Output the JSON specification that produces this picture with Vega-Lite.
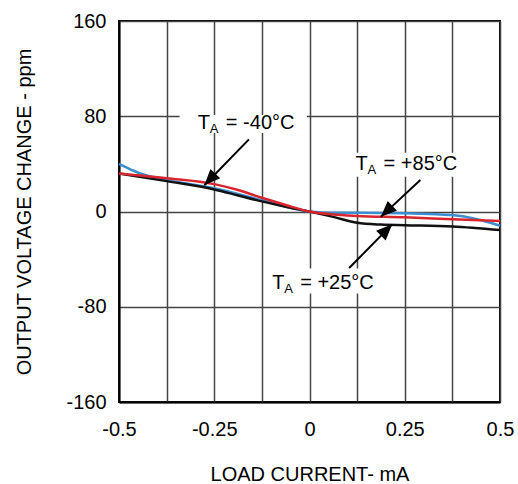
{
  "$schema": "https://vega.github.io/schema/vega-lite/v6.json",
  "width": 381,
  "height": 381,
  "autosize": "none",
  "padding": {"left": 119, "top": 21, "right": 18, "bottom": 82},
  "background": "white",
  "config": {
    "font": "Liberation Sans",
    "view": {"stroke": "black", "strokeWidth": 2},
    "axis": {
      "labelFont": "Liberation Sans",
      "titleFont": "Liberation Sans",
      "labelFontSize": 20,
      "titleFontSize": 20,
      "labelColor": "black",
      "titleColor": "black",
      "titleFontWeight": "normal",
      "ticks": false,
      "tickSize": 0,
      "domainColor": "black",
      "domainWidth": 2,
      "gridColor": "#444444",
      "gridWidth": 1.5,
      "gridOpacity": 1
    }
  },
  "datasets": {
    "curves": [
      {"series": "-40°C", "current": -0.5, "change": 40},
      {"series": "-40°C", "current": -0.46, "change": 34},
      {"series": "-40°C", "current": -0.44, "change": 31.5},
      {"series": "-40°C", "current": -0.375, "change": 26.5},
      {"series": "-40°C", "current": -0.25, "change": 19.5},
      {"series": "-40°C", "current": -0.125, "change": 9.5},
      {"series": "-40°C", "current": 0, "change": 0},
      {"series": "-40°C", "current": 0.0625, "change": -1},
      {"series": "-40°C", "current": 0.125, "change": -1},
      {"series": "-40°C", "current": 0.25, "change": -1.5},
      {"series": "-40°C", "current": 0.33, "change": -2.3},
      {"series": "-40°C", "current": 0.375, "change": -3},
      {"series": "-40°C", "current": 0.44, "change": -6.5},
      {"series": "-40°C", "current": 0.5, "change": -12},
      {"series": "+25°C", "current": -0.5, "change": 32},
      {"series": "+25°C", "current": -0.375, "change": 25.5},
      {"series": "+25°C", "current": -0.25, "change": 18.5},
      {"series": "+25°C", "current": -0.1875, "change": 13.5},
      {"series": "+25°C", "current": -0.125, "change": 8.5},
      {"series": "+25°C", "current": -0.0625, "change": 4},
      {"series": "+25°C", "current": 0, "change": 0},
      {"series": "+25°C", "current": 0.0625, "change": -4.5},
      {"series": "+25°C", "current": 0.125, "change": -9.5},
      {"series": "+25°C", "current": 0.1875, "change": -11},
      {"series": "+25°C", "current": 0.25, "change": -11.5},
      {"series": "+25°C", "current": 0.375, "change": -12.5},
      {"series": "+25°C", "current": 0.5, "change": -15.5},
      {"series": "+85°C", "current": -0.5, "change": 32},
      {"series": "+85°C", "current": -0.375, "change": 28},
      {"series": "+85°C", "current": -0.25, "change": 23},
      {"series": "+85°C", "current": -0.1875, "change": 18},
      {"series": "+85°C", "current": -0.125, "change": 11.5},
      {"series": "+85°C", "current": -0.0625, "change": 5.5},
      {"series": "+85°C", "current": 0, "change": 0},
      {"series": "+85°C", "current": 0.0625, "change": -2.5},
      {"series": "+85°C", "current": 0.125, "change": -3.7},
      {"series": "+85°C", "current": 0.25, "change": -4.8},
      {"series": "+85°C", "current": 0.375, "change": -6.5},
      {"series": "+85°C", "current": 0.5, "change": -8}
    ],
    "labels": [
      {"rest": "= -40°C", "x": -0.293, "y": 74.4, "bx": -0.341, "bx2": -0.007, "by": 65.9, "by2": 81.1},
      {"rest": "= +85°C", "x": 0.121, "y": 39.8, "bx": 0.106, "bx2": 0.4, "by": 29.1, "by2": 49.3},
      {"rest": "= +25°C", "x": -0.098, "y": -60, "bx": -0.112, "bx2": 0.185, "by": -68.8, "by2": -47.8}
    ],
    "arrows": [
      {"x": -0.159, "y": 60.6, "tx": -0.276, "ty": 22.1, "dir": 223.7},
      {"x": 0.291, "y": 26.4, "tx": 0.187, "ty": -4.5, "dir": 226.8},
      {"x": 0.104, "y": -47.5, "tx": 0.217, "ty": -10.8, "dir": 45}
    ]
  },
  "layer": [
    {
      "data": {"name": "labels"},
      "mark": {"type": "rect", "fill": "white", "stroke": null},
      "encoding": {
        "x": {
          "field": "bx", "type": "quantitative",
          "scale": {"domain": [-0.5, 0.5], "nice": false, "zero": false},
          "axis": {
            "values": [-0.5, -0.375, -0.25, -0.125, 0, 0.125, 0.25, 0.375, 0.5],
            "labelExpr": "(datum.value*4) % 1 == 0 ? toString(datum.value) : ''",
            "labelPadding": 17,
            "labelFlush": false,
            "title": "LOAD CURRENT- mA",
            "titleBaseline": "alphabetic",
            "titleY": 78,
            "titleX": 190.5,
            "titleAlign": "center"
          }
        },
        "x2": {"field": "bx2"},
        "y": {
          "field": "by", "type": "quantitative",
          "scale": {"domain": [-160, 160], "nice": false, "zero": false},
          "axis": {
            "values": [-160, -80, 0, 80, 160],
            "labelExpr": "toString(datum.value)",
            "labelPadding": 13,
            "labelFlush": false,
            "title": "OUTPUT VOLTAGE CHANGE - ppm",
            "titleAngle": 270,
            "titleAlign": "center",
            "titleBaseline": "middle",
            "titleX": -95,
            "titleY": 190.5
          }
        },
        "y2": {"field": "by2"}
      }
    },
    {
      "data": {"name": "curves"},
      "mark": {"type": "line", "strokeWidth": 2.5, "interpolate": "monotone"},
      "encoding": {
        "x": {"field": "current", "type": "quantitative"},
        "y": {"field": "change", "type": "quantitative"},
        "color": {
          "field": "series", "type": "nominal",
          "scale": {"domain": ["-40°C", "+25°C", "+85°C"], "range": ["#3b8ed0", "#111111", "#d9252d"]},
          "legend": null
        }
      }
    },
    {
      "data": {"name": "arrows"},
      "mark": {"type": "rule", "color": "black", "strokeWidth": 2},
      "encoding": {
        "x": {"field": "x", "type": "quantitative"},
        "y": {"field": "y", "type": "quantitative"},
        "x2": {"field": "tx"},
        "y2": {"field": "ty"}
      }
    },
    {
      "data": {"name": "arrows"},
      "mark": {"type": "point", "shape": "M0,0L-0.55,1.3L0.55,1.3Z", "filled": true, "color": "black", "opacity": 1, "size": 600, "strokeWidth": 0},
      "encoding": {
        "x": {"field": "tx", "type": "quantitative"},
        "y": {"field": "ty", "type": "quantitative"},
        "angle": {"field": "dir", "type": "quantitative", "scale": null}
      }
    },
    {
      "data": {"name": "labels"},
      "mark": {"type": "text", "text": "T", "align": "left", "baseline": "middle", "fontSize": 20, "color": "black"},
      "encoding": {
        "x": {"field": "x", "type": "quantitative"},
        "y": {"field": "y", "type": "quantitative"}
      }
    },
    {
      "data": {"name": "labels"},
      "mark": {"type": "text", "text": "A", "align": "left", "baseline": "middle", "fontSize": 13, "dx": 12, "dy": 6, "color": "black"},
      "encoding": {
        "x": {"field": "x", "type": "quantitative"},
        "y": {"field": "y", "type": "quantitative"}
      }
    },
    {
      "data": {"name": "labels"},
      "mark": {"type": "text", "align": "left", "baseline": "middle", "fontSize": 20, "dx": 28, "color": "black"},
      "encoding": {
        "x": {"field": "x", "type": "quantitative"},
        "y": {"field": "y", "type": "quantitative"},
        "text": {"field": "rest"}
      }
    }
  ]
}
